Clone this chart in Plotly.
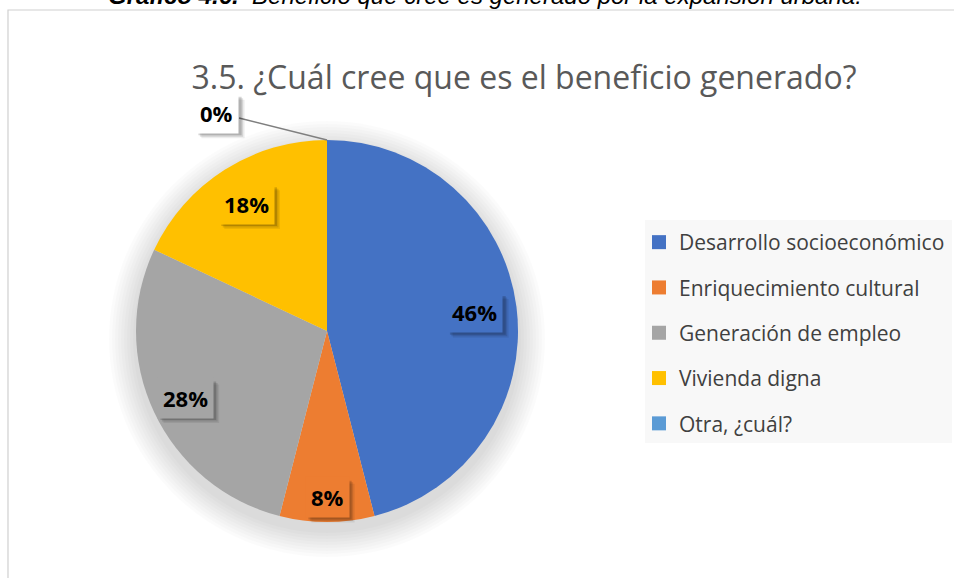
import math
import plotly.graph_objects as go

# ---------------- data ----------------
categories = ["Desarrollo socioeconómico", "Enriquecimiento cultural",
              "Generación de empleo", "Vivienda digna", "Otra, ¿cuál?"]
values = [46, 8, 28, 18, 0]
colors = ["#4472C4", "#ED7D31", "#A5A5A5", "#FFC000", "#5B9BD5"]

title_text = "3.5. ¿Cuál cree que es el beneficio generado?"
caption_text = ("<b><i>Gráfico 4.6.</i></b><i>  Beneficio que cree es generado "
                "por la expansión urbana.</i>")

# ---------------- layout constants (pixels) ----------------
W, H = 954, 578
CX, CY, R = 327, 331, 191           # pie centre and radius
LABEL_R = [0.78, 0.87, 0.82, 0.79, 1.0]
OUTSIDE_OFFSET = (-110, -27)         # label offset for the empty slice
LABEL_FONT = 22
PAD = 5


def px(x):
    return x / W


def py(y):
    return 1 - y / H


fig = go.Figure()

fig.add_trace(go.Pie(
    labels=categories, values=values,
    marker=dict(colors=colors, line=dict(width=0)),
    sort=False, direction="clockwise", rotation=0,
    textinfo="none", hoverinfo="label+percent",
    showlegend=False,
    domain=dict(x=[px(CX - R), px(CX + R)], y=[py(CY + R), py(CY - R)]),
))

# legend entries (one group each so spacing can be controlled)
for name, col in zip(categories, colors):
    fig.add_trace(go.Scatter(
        x=[None], y=[None], mode="markers", name=name, legendgroup=name,
        marker=dict(symbol="square", size=14, color=col),
        showlegend=True, hoverinfo="skip",
    ))

shapes = []
# chart frame and legend background
shapes.append(dict(type="rect", xref="paper", yref="paper",
                   x0=px(8), x1=1.02, y0=-0.02, y1=py(10),
                   line=dict(color="#D0D0D0", width=1.2),
                   fillcolor="rgba(0,0,0,0)", layer="below"))
shapes.append(dict(type="rect", xref="paper", yref="paper",
                   x0=px(645), x1=px(952), y0=py(443), y1=py(220),
                   line=dict(width=0), fillcolor="#F8F8F8", layer="below"))
# soft shadow under the pie
for k in range(1, 10):
    rr = R + 3 * k
    shapes.append(dict(type="circle", xref="paper", yref="paper",
                       x0=px(CX - rr), x1=px(CX + rr),
                       y0=py(CY + 8 + rr), y1=py(CY + 8 - rr),
                       line=dict(width=0), fillcolor="rgba(0,0,0,0.014)",
                       layer="below"))

# ---------------- data labels ----------------
total = sum(values)
annotations = []
cum = 0
for i, (v, col) in enumerate(zip(values, colors)):
    mid = (cum + v / 2) / total * 2 * math.pi
    cum += v
    pct = f"{round(100 * v / total)}%"
    if v > 0:
        lx = CX + LABEL_R[i] * R * math.sin(mid)
        ly = CY - LABEL_R[i] * R * math.cos(mid)
        bg = col
    else:
        ex = CX + R * math.sin(mid)
        ey = CY - R * math.cos(mid)
        lx, ly = ex + OUTSIDE_OFFSET[0], ey + OUTSIDE_OFFSET[1]
        bg = "#FFFFFF"
        shapes.append(dict(type="line", xref="paper", yref="paper",
                           x0=px(lx + 22), y0=py(ly + 5), x1=px(ex), y1=py(ey),
                           line=dict(color="#7F7F7F", width=1.5), layer="above"))
    # box size estimate for the shadow
    bw = 0.57 * LABEL_FONT * (len(pct) - 1) + 0.85 * LABEL_FONT + 2 * PAD + 2
    bh = 1.3 * LABEL_FONT + 2 * PAD
    for off, op in [(6, 0.07), (4.5, 0.11), (3, 0.16)]:
        shapes.append(dict(type="rect", xref="paper", yref="paper",
                           x0=px(lx - bw / 2 + off), x1=px(lx + bw / 2 + off),
                           y0=py(ly + bh / 2 + off), y1=py(ly - bh / 2 + off),
                           line=dict(width=0),
                           fillcolor=f"rgba(0,0,0,{op})", layer="above"))
    annotations.append(dict(x=px(lx), y=py(ly), xref="paper", yref="paper",
                            xanchor="center", yanchor="middle",
                            text=f"<b>{pct}</b>", showarrow=False,
                            font=dict(family="Open Sans", size=LABEL_FONT,
                                      color="#000000"),
                            bgcolor=bg, borderpad=PAD))

# caption (cut off at the top edge)
annotations.append(dict(x=px(485), y=py(11.5), xref="paper", yref="paper",
                        xanchor="center", yanchor="bottom",
                        text=caption_text, showarrow=False,
                        font=dict(family="Liberation Sans", size=24, color="#000000")))

fig.update_layout(
    width=W, height=H,
    margin=dict(l=0, r=0, t=0, b=0),
    paper_bgcolor="#FFFFFF", plot_bgcolor="rgba(0,0,0,0)",
    xaxis=dict(visible=False), yaxis=dict(visible=False),
    title=dict(text=title_text, x=px(524), y=py(78), xanchor="center",
               yanchor="middle",
               font=dict(family="Open Sans", size=32, color="#595959")),
    legend=dict(x=px(639), y=py(222), xanchor="left", yanchor="top",
                bgcolor="rgba(0,0,0,0)", tracegroupgap=15, itemwidth=30,
                traceorder="grouped",
                font=dict(family="Open Sans", size=21, color="#404040")),
    annotations=annotations,
    shapes=shapes,
    showlegend=True,
)

fig.write_html("out.html",
               config={"displayModeBar": False},
               post_script="document.body.style.margin='0';"
                           "document.body.style.overflow='hidden';")
